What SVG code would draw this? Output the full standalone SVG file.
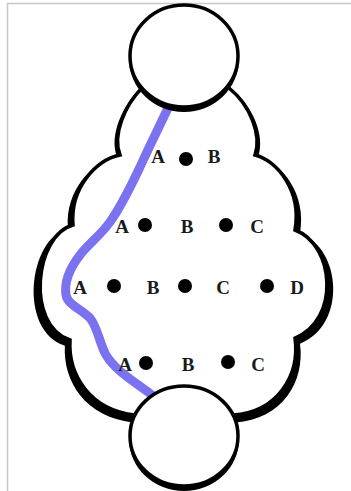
<svg xmlns="http://www.w3.org/2000/svg" width="351" height="491" viewBox="0 0 351 491">
<style>
.lbl{font-family:"Liberation Serif","Times New Roman",serif;font-weight:bold;font-size:19px;fill:#1a1a1a;text-anchor:middle}
.dot{fill:#000}
.ring{fill:#fff;stroke:#000;stroke-width:3.5}
.shadow{fill:#000}
</style>
<defs>
<path id="cloudShape" d="M142,88 C125,105 112,135 120,155 C96,160 70,188 73,225 C35,235 25,325 70,340 C68,375 90,410 135,415 L233,415 C278,412 300,375 295,338 C340,320 335,245 295,230 C302,190 276,160 255,155 C262,135 250,105 229,88 Z"/>
</defs>
<rect x="0" y="0" width="351" height="491" fill="#fff"/>
<path d="M7.5,491 V3.5 H351" fill="none" stroke="#c8c8c8" stroke-width="1.5"/>
<g id="cloud">
<use href="#cloudShape" class="shadow" transform="translate(184,264) scale(1.045,1.022) translate(-184,-260)"/>
<use href="#cloudShape" fill="#fff" stroke="#000" stroke-width="3.5"/>
</g>
<g id="connectors">
<path d="M168,108 C160,125 150,145 140,167 C130,188 122,205 110,222 C100,236 88,244 80,255 C70,268 64,282 66,295 C68,305 80,308 90,318 C98,328 100,345 106,355 C115,370 132,380 152,395" fill="none" stroke="#7b72f0" stroke-width="9" stroke-linecap="round" stroke-linejoin="round"/>
</g>
<g id="top-circle">
<ellipse cx="184" cy="59" rx="55" ry="53" class="shadow"/>
<ellipse cx="184" cy="56" rx="54" ry="51" class="ring"/>
</g>
<g id="bottom-circle">
<ellipse cx="184" cy="439" rx="55" ry="52" class="shadow"/>
<ellipse cx="184" cy="436" rx="54" ry="50" class="ring"/>
</g>
<g id="row1">
<text x="158" y="163" class="lbl">A</text>
<circle cx="186" cy="159" r="7" class="dot"/>
<text x="214" y="163" class="lbl">B</text>
</g>
<g id="row2">
<text x="122" y="233" class="lbl">A</text>
<circle cx="145" cy="225" r="7" class="dot"/>
<text x="187" y="233" class="lbl">B</text>
<circle cx="226" cy="225" r="7" class="dot"/>
<text x="257" y="233" class="lbl">C</text>
</g>
<g id="row3">
<text x="80" y="294" class="lbl">A</text>
<circle cx="114" cy="286" r="7" class="dot"/>
<text x="153" y="294" class="lbl">B</text>
<circle cx="185" cy="286" r="7" class="dot"/>
<text x="223" y="294" class="lbl">C</text>
<circle cx="267" cy="286" r="7" class="dot"/>
<text x="297" y="294" class="lbl">D</text>
</g>
<g id="row4">
<text x="125" y="371" class="lbl">A</text>
<circle cx="146" cy="363" r="7" class="dot"/>
<text x="188" y="371" class="lbl">B</text>
<circle cx="228" cy="362" r="7" class="dot"/>
<text x="258" y="371" class="lbl">C</text>
</g>
</svg>
